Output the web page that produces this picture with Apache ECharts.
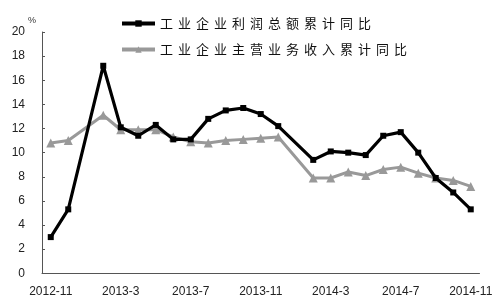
<!DOCTYPE html>
<html><head><meta charset="utf-8">
<script src="https://cdn.jsdelivr.net/npm/echarts@6/dist/echarts.min.js"></script>
<style>html,body{margin:0;padding:0;background:#fff}#c{width:500px;height:308px}</style>
</head><body><div id="c"></div>
<script>
var categories = ["2012-11","2012-12","2013-1","2013-2","2013-3","2013-4","2013-5","2013-6","2013-7","2013-8","2013-9","2013-10","2013-11","2013-12","2014-1","2014-2","2014-3","2014-4","2014-5","2014-6","2014-7","2014-8","2014-9","2014-10","2014-11"];
var profitGrowth = [3.0,5.3,null,17.2,12.1,11.4,12.3,11.1,11.1,12.8,13.5,13.7,13.2,12.2,null,9.4,10.1,10.0,9.8,11.4,11.7,10.0,7.9,6.7,5.3];
var revenueGrowth = [10.8,11.0,null,13.1,11.9,11.9,11.9,11.3,10.9,10.8,11.0,11.1,11.2,11.3,null,7.9,7.9,8.4,8.1,8.6,8.8,8.3,7.9,7.7,7.2];
var seriesNames = ["工业企业利润总额累计同比","工业企业主营业务收入累计同比"];
var yTicks = {min:0, max:20, interval:2};

var chart = echarts.init(document.getElementById('c'), null, {renderer:'canvas'});
var font = 'Liberation Sans, Arial, sans-serif';
chart.setOption({
  animation:false,
  backgroundColor:'#fff',
  grid:{left:42, right:20.5, top:32, bottom:34.7, containLabel:false},
  legend:{
    orient:'vertical', left:115, top:12, itemGap:13,
    itemWidth:33, itemHeight:8,
    data:seriesNames,
    lineStyle:{width:4},
    formatter:function(n){return n.split('').map(function(ch){return '{c|'+ch+'}';}).join('');},
    textStyle:{color:'#111', fontSize:13, fontFamily:'Noto Sans CJK SC',
      rich:{c:{width:18, fontSize:13, color:'#111', fontFamily:'Noto Sans CJK SC'}}}
  },
  xAxis:{
    type:'category', data:categories, boundaryGap:true,
    axisLine:{lineStyle:{color:'#555', width:1}},
    axisTick:{inside:true, length:4, interval:3, lineStyle:{color:'#555'}},
    axisLabel:{interval:3, color:'#222', fontSize:12, fontFamily:font, margin:12},
    splitLine:{show:false}
  },
  yAxis:{
    type:'value', min:yTicks.min, max:yTicks.max, interval:yTicks.interval,
    name:'%', nameGap:7,
    nameTextStyle:{color:'#333', fontSize:9, fontFamily:font, padding:[0,20,0,0]},
    axisLine:{show:true, lineStyle:{color:'#555', width:1}},
    axisTick:{show:true, inside:true, length:3, lineStyle:{color:'#555'}},
    axisLabel:{color:'#222', fontSize:12, fontFamily:font, margin:17},
    splitLine:{show:false}
  },
  series:[
    {name:seriesNames[0], type:'line', data:profitGrowth, connectNulls:true,
     symbol:'rect', symbolSize:6, showAllSymbol:true,
     itemStyle:{color:'#000'}, lineStyle:{color:'#000', width:3.2}, z:3},
    {name:seriesNames[1], type:'line', data:revenueGrowth, connectNulls:true,
     symbol:'triangle', symbolSize:9, showAllSymbol:true,
     itemStyle:{color:'#999'}, lineStyle:{color:'#999', width:3}, z:2}
  ]
});
</script></body></html>
